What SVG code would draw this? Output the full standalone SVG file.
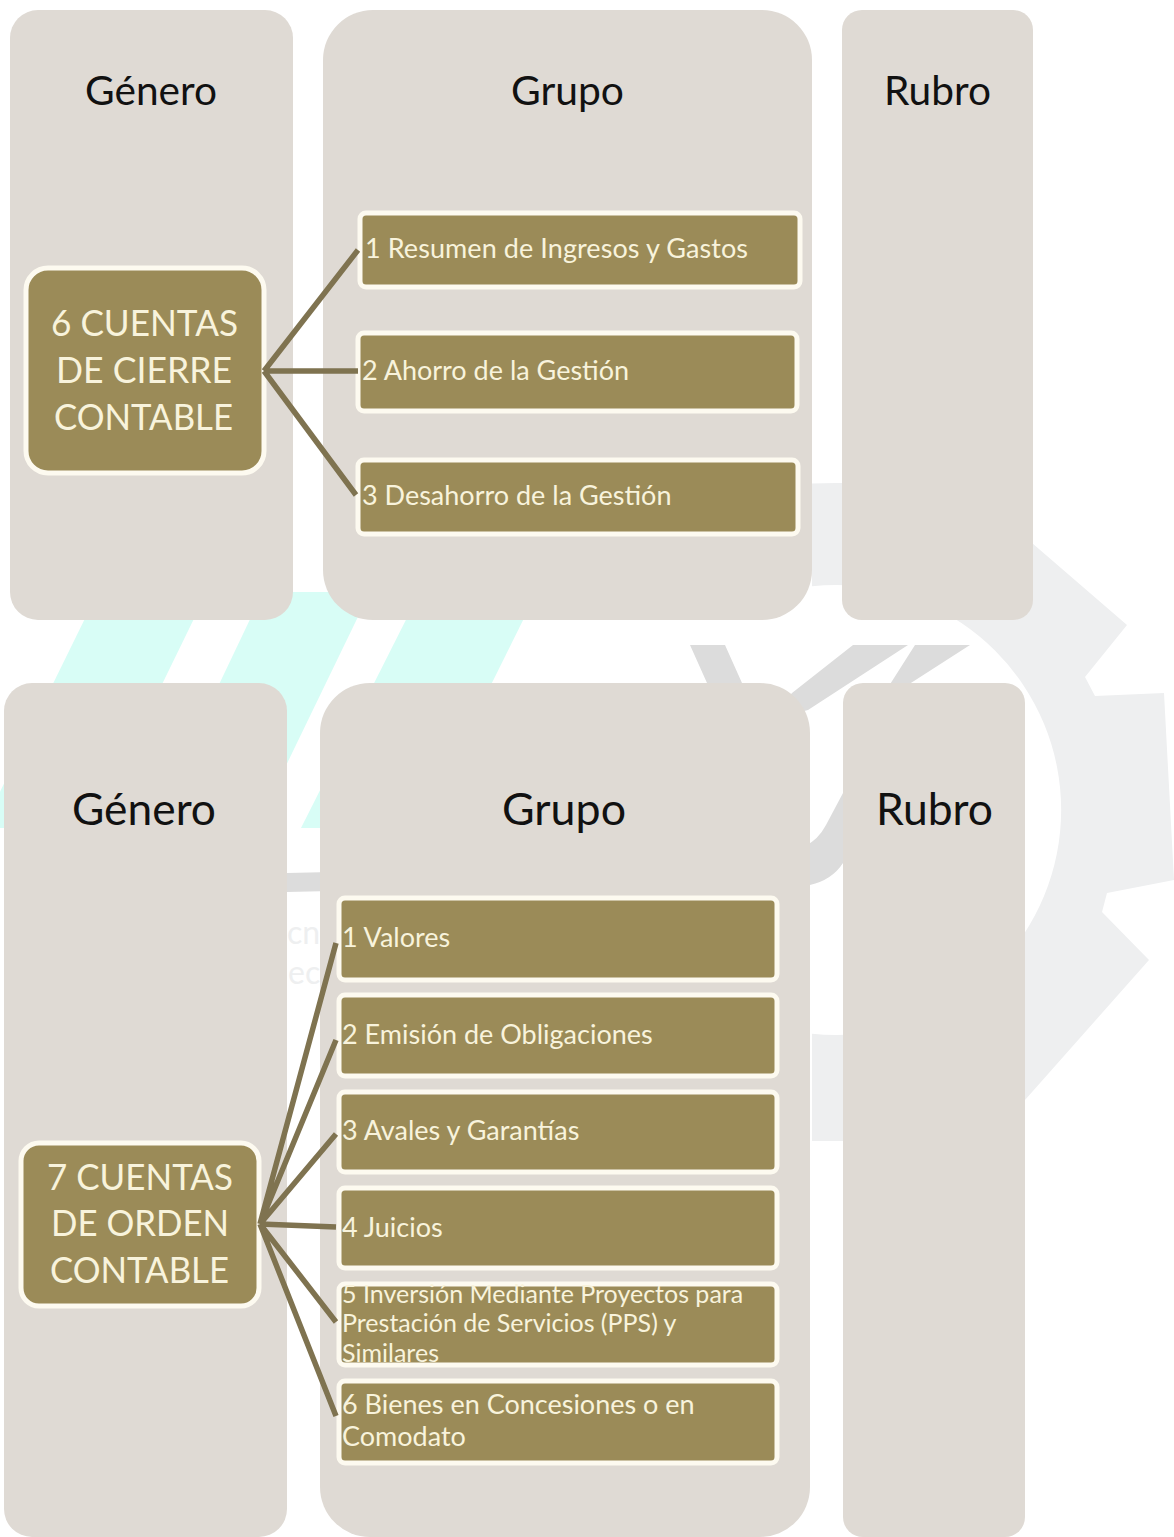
<svg xmlns="http://www.w3.org/2000/svg" width="1174" height="1537" viewBox="0 0 1174 1537">
<style>
.panel{fill:#dfdad4}
.head{font-family:Lato,"Liberation Sans",sans-serif;fill:#111}
.node{fill:#9b8b58;stroke:#fdfaf0;stroke-width:5}
.item{font-family:Lato,"Liberation Sans",sans-serif;fill:#f8f3dc;font-size:27px}
.big{font-family:Lato,"Liberation Sans",sans-serif;fill:#f8f3dc;font-size:37px}
.wm{fill:#eeeff0}
.wd{fill:#dcdcdc}
.teal{fill:#d8fdf6}
.link{stroke:#7f7350;stroke-width:5.5;fill:none;stroke-linecap:butt}
</style>
<defs><clipPath id="gearclip"><rect x="812" y="0" width="362" height="1537"/></clipPath></defs>
<rect width="1174" height="1537" fill="#fff"/>
<g id="watermark">
<path class="teal" d="M98,592H207L92,828H-10V812Z"/>
<path class="teal" d="M263,592H370L250,840H145Z"/>
<path class="teal" d="M420,592H537L420,828H301Z"/>
<path class="wm" clip-path="url(#gearclip)" fill-rule="evenodd" d="M836,483C900,483 975,510 1032,543L1127,625L1085,677L1095,696L1164,693L1174,880L1107,893L1102,912L1149,960L1025,1100C970,1130 900,1141 836,1141L700,1141L600,1100L500,1000L500,620L600,540C670,500 760,483 836,483ZM836,585A225,225 0 1 0 836.1,1035A225,225 0 1 0 836,585Z"/>
<path class="wd" d="M690,645H725L742,683L760,730L707,683ZM853,645H908L808,710L770,720L792,693ZM915,645H970L900,690L880,700ZM843,793L826,825Q818,840 805,846L760,860L600,866L287,873V892L600,885H810Q832,880 843,863L880,790L860,760Z"/>
<text x="287" y="944" font-family="Lato,sans-serif" font-size="32" fill="#eeeff0">cn</text>
<text x="288" y="984" font-family="Lato,sans-serif" font-size="32" fill="#eeeff0">ec</text>
</g>
<g id="panel-genero-1"><rect class="panel" x="10" y="10" width="283" height="610" rx="28"/><text class="head" x="85" y="105" font-size="40" textLength="132" lengthAdjust="spacingAndGlyphs">Género</text></g>
<g id="panel-grupo-1"><rect class="panel" x="323" y="10" width="489" height="610" rx="50"/><text class="head" x="511" y="105" font-size="40" textLength="113" lengthAdjust="spacingAndGlyphs">Grupo</text></g>
<g id="panel-rubro-1"><rect class="panel" x="842" y="10" width="191" height="610" rx="20"/><text class="head" x="884" y="105" font-size="40" textLength="107" lengthAdjust="spacingAndGlyphs">Rubro</text></g>
<g id="panel-genero-2"><rect class="panel" x="4" y="683" width="283" height="854" rx="28"/><text class="head" x="72" y="825" font-size="44" textLength="144" lengthAdjust="spacingAndGlyphs">Género</text></g>
<g id="panel-grupo-2"><rect class="panel" x="320" y="683" width="490" height="854" rx="50"/><text class="head" x="502" y="825" font-size="44" textLength="124" lengthAdjust="spacingAndGlyphs">Grupo</text></g>
<g id="panel-rubro-2"><rect class="panel" x="843" y="683" width="182" height="854" rx="20"/><text class="head" x="876" y="825" font-size="44" textLength="117" lengthAdjust="spacingAndGlyphs">Rubro</text></g>
<g id="n6"><rect class="node" x="26" y="268" width="238" height="205" rx="22"/><text class="big" x="51" y="336" textLength="187" lengthAdjust="spacingAndGlyphs">6 CUENTAS</text><text class="big" x="56" y="383" textLength="176" lengthAdjust="spacingAndGlyphs">DE CIERRE</text><text class="big" x="54" y="430" textLength="179" lengthAdjust="spacingAndGlyphs">CONTABLE</text></g>
<g id="n6-1"><rect class="node" x="360" y="213" width="440" height="74" rx="6"/><text class="item" x="365" y="258" textLength="383">1 Resumen de Ingresos y Gastos</text></g>
<g id="n6-2"><rect class="node" x="358" y="333" width="439" height="78" rx="6"/><text class="item" x="362" y="380">2 Ahorro de la Gestión</text></g>
<g id="n6-3"><rect class="node" x="358" y="460" width="440" height="74" rx="6"/><text class="item" x="362" y="505">3 Desahorro de la Gestión</text></g>
<g id="n7"><rect class="node" x="21" y="1143" width="238" height="163" rx="18"/><text class="big" x="47" y="1190" textLength="186" lengthAdjust="spacingAndGlyphs">7 CUENTAS</text><text class="big" x="51" y="1236" textLength="178" lengthAdjust="spacingAndGlyphs">DE ORDEN</text><text class="big" x="50" y="1283" textLength="179" lengthAdjust="spacingAndGlyphs">CONTABLE</text></g>
<g id="n7-1"><rect class="node" x="339" y="898" width="438" height="82" rx="6"/><text class="item" x="342" y="947">1 Valores</text></g>
<g id="n7-2"><rect class="node" x="339" y="995" width="438" height="81" rx="6"/><text class="item" x="342" y="1044">2 Emisión de Obligaciones</text></g>
<g id="n7-3"><rect class="node" x="339" y="1092" width="438" height="80" rx="6"/><text class="item" x="342" y="1140">3 Avales y Garantías</text></g>
<g id="n7-4"><rect class="node" x="339" y="1188" width="438" height="80" rx="6"/><text class="item" x="342" y="1237">4 Juicios</text></g>
<g id="n7-5"><rect class="node" x="339" y="1284" width="438" height="81" rx="6"/><text class="item" style="font-size:25px"><tspan x="342" y="1303">5 Inversión Mediante Proyectos para</tspan><tspan x="342" y="1332">Prestación de Servicios (PPS) y</tspan><tspan x="342" y="1362">Similares</tspan></text></g>
<g id="n7-6"><rect class="node" x="339" y="1381" width="438" height="82" rx="6"/><text class="item"><tspan x="342" y="1414">6 Bienes en Concesiones o en</tspan><tspan x="342" y="1446">Comodato</tspan></text></g>
<g id="connectors">
<path class="link" d="M264,371L358,250M264,371H358M264,371L356,495"/>
<path class="link" d="M260,1224L336,943M260,1224L336,1040M260,1224L336,1134M260,1224L336,1227M260,1224L336,1322M260,1224L336,1416"/>
</g>
</svg>
